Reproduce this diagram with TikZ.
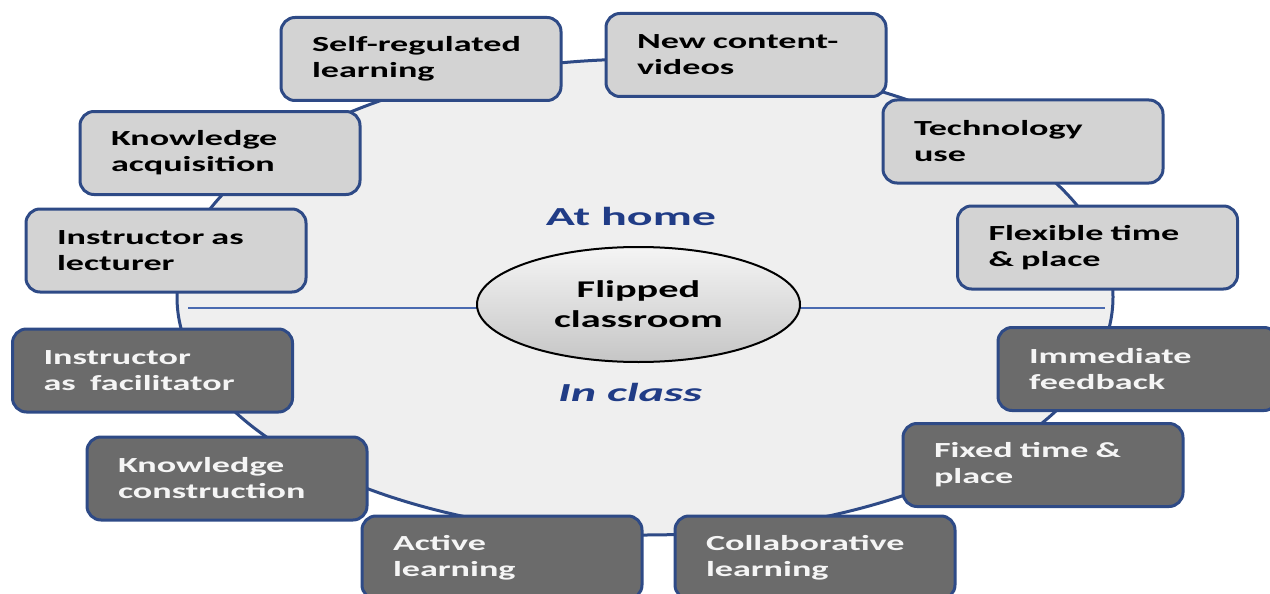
\documentclass[tikz,border=0pt]{standalone}
\usepackage{fontspec}
\usepackage{xcolor}
\usetikzlibrary{shapes.geometric}

\newfontfamily\boxfont{Carlito}[FakeStretch=1.68]
\newfontfamily\sidefont{Carlito}[FakeStretch=1.85]

\definecolor{rimblue}{HTML}{2E4A86}
\definecolor{splitblue}{HTML}{4A6AB0}
\definecolor{titleblue}{HTML}{203C86}
\definecolor{ovalfill}{HTML}{EFEFEF}
\definecolor{homegray}{HTML}{D3D3D3}
\definecolor{classgray}{HTML}{6B6B6B}

\begin{document}
\begin{tikzpicture}[x=1pt,y=-1pt,
  item/.style={draw=rimblue,line width=3pt,rounded corners=14pt,
    minimum height=83pt,text width=218pt,inner xsep=31pt,align=left,
    font=\boxfont\bfseries\fontsize{21.5}{26}\selectfont},
  home/.style={item,fill=homegray,text=black},
  class/.style={item,fill=classgray,text=white!96!black},
  side/.style={anchor=base,text=titleblue,
    font=\sidefont\bfseries\fontsize{26}{30}\selectfont}]
\useasboundingbox (0,0) rectangle (1270,594);
\fill[white] (0,0) rectangle (1270,594);
% the big oval the boxes sit on
\draw[draw=rimblue,fill=ovalfill,line width=3pt] (645,297) ellipse [x radius=468pt,y radius=238pt];
\coordinate (splitL) at (188,308);
\coordinate (splitR) at (1105,308);
\draw[splitblue,line width=1.2pt] (splitL) -- (splitR);
\node[ellipse,draw=black,line width=2pt,top color=gray!8,bottom color=gray!45,
  minimum width=323pt,minimum height=115pt,align=center,
  font=\boxfont\bfseries\fontsize{24}{30}\selectfont] (flipped) at (638.5,304.5) {Flipped\\classroom};
\node[side] (athome) at (631,225) {At home};
\node[side] (inclass) at (630,401) {\itshape In class};
% upper half
\node[home] (selfreg) at (421,59) {Self-regulated\\learning};
\node[home] (newvideo) at (746,55) {New content-\\videos};
\node[home] (techuse) at (1023,141.5) {Technology\\use};
\node[home] (flextime) at (1097.5,247.5) {Flexible time\\\& place};
\node[home] (knowacq) at (220,153) {Knowledge\\acquisition};
\node[home] (lecturer) at (166,250.5) {Instructor as\\lecturer};
% lower half
\node[class] (facilitator) at (152.5,370.5) {Instructor\\as~ facilitator};
\node[class] (knowcon) at (227,478.5) {Knowledge\\construction};
\node[class] (active) at (502,557.5) {Active\\learning};
\node[class] (collab) at (815,557.5) {Collaborative\\learning};
\node[class] (fixedtime) at (1043,465) {Fixed time \&\\place};
\node[class] (feedback) at (1138,369) {Immediate\\feedback};
\end{tikzpicture}
\end{document}
